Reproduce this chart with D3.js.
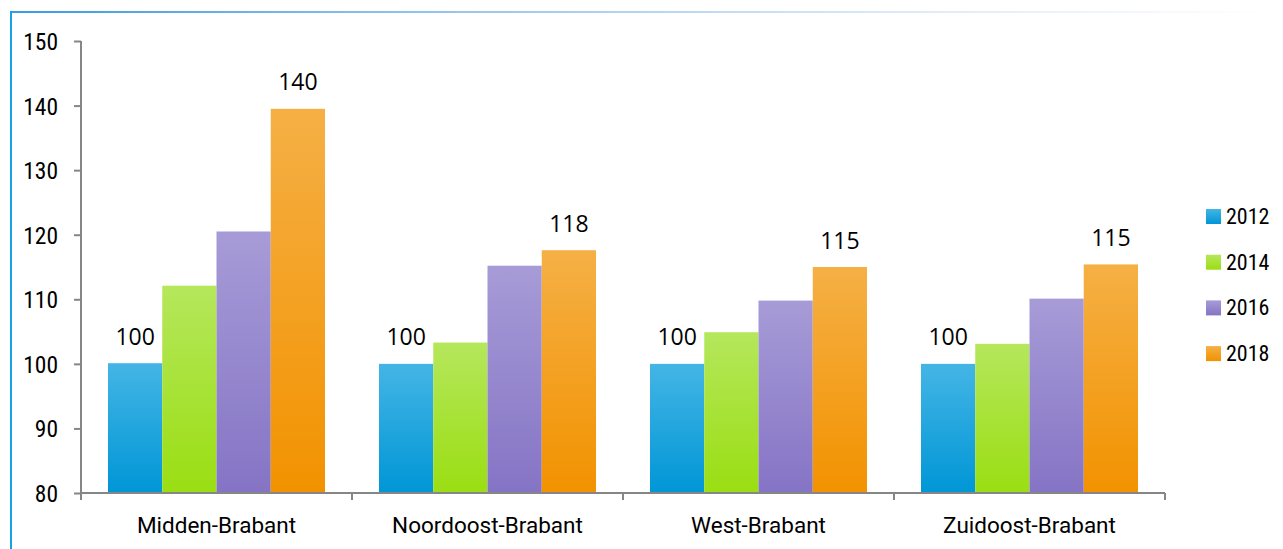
<!DOCTYPE html>
<html><head><meta charset="utf-8">
<script src="https://cdn.jsdelivr.net/npm/d3@7"></script>
<style>
html,body{margin:0;padding:0;background:#fff;}
svg{display:block;}
.ax text{font-family:"Liberation Sans Narrow","Roboto Condensed","DejaVu Sans Condensed",sans-serif;fill:#000;}
</style></head>
<body>
<svg id="c" width="1283" height="549"></svg>
<script>
const categories = ["Midden-Brabant","Noordoost-Brabant","West-Brabant","Zuidoost-Brabant"];
const years = ["2012","2014","2016","2018"];
const v2012 = [100.1, 100.0, 100.0, 100.0];
const v2014 = [112.1, 103.3, 104.9, 103.1];
const v2016 = [120.5, 115.2, 109.8, 110.1];
const v2018 = [139.5, 117.6, 115.0, 115.4];
const labels2012 = ["100","100","100","100"];
const labels2018 = ["140","118","115","115"];
const yTicks = [80,90,100,110,120,130,140,150];
const colors = [["#44b5e5","#0096d6"],["#b5e75c","#9ade12"],["#a79bd7","#8574c5"],["#f5b045","#f29200"]];

const series = [v2012, v2014, v2016, v2018];
const svg = d3.select("#c");
const defs = svg.append("defs");
colors.forEach((c,i)=>{
  const g = defs.append("linearGradient").attr("id","g"+i).attr("x1",0).attr("y1",0).attr("x2",0).attr("y2",1);
  g.append("stop").attr("offset","0%").attr("stop-color",c[0]);
  g.append("stop").attr("offset","100%").attr("stop-color",c[1]);
});
const tg = defs.append("linearGradient").attr("id","tg").attr("x1",0).attr("x2",1).attr("y1",0).attr("y2",0);
tg.append("stop").attr("offset","0%").attr("stop-color","#3a9be0");
tg.append("stop").attr("offset","30%").attr("stop-color","#8cc0ea");
tg.append("stop").attr("offset","70%").attr("stop-color","#dbe9f7");
tg.append("stop").attr("offset","100%").attr("stop-color","#ffffff");

// frame
svg.append("rect").attr("x",10).attr("y",11).attr("width",1255).attr("height",2).attr("fill","url(#tg)");
svg.append("rect").attr("x",10).attr("y",11).attr("width",2).attr("height",538).attr("fill","#19a0e6");

const pL=81, pR=1165, pT=41, pB=493;
const x0 = d3.scaleBand().domain(categories).range([pL,pR]).paddingInner(0).paddingOuter(0);
const x1 = d3.scaleBand().domain(years).range([27, x0.bandwidth()-27]).padding(0);
const y = d3.scaleLinear().domain([80,150]).range([pB,pT]);

const data = categories.map((c,ci)=>({cat:c, vals: years.map((yr,si)=>({yr, si, v: series[si][ci]}))}));

const gr = svg.append("g").selectAll("g").data(data).join("g")
  .attr("transform",d=>`translate(${x0(d.cat)},0)`);
gr.selectAll("rect").data(d=>d.vals).join("rect")
  .attr("x",d=>x1(d.yr)).attr("width",x1.bandwidth())
  .attr("y",d=>y(d.v)).attr("height",d=>y(80)-y(d.v))
  .attr("fill",d=>`url(#g${d.si})`);

// labels
const lf = '"Open Sans","Lato",sans-serif';
gr.append("text").attr("x",x1("2012")+x1.bandwidth()/2).attr("y",(d,i)=>y(v2012[i])-18.5)
  .attr("text-anchor","middle").style("font-family",lf).style("font-size","23px").attr("fill","#000")
  .text((d,i)=>labels2012[i]);
gr.append("text").attr("x",x1("2018")+x1.bandwidth()/2).attr("y",(d,i)=>y(v2018[i])-18.5)
  .attr("text-anchor","middle").style("font-family",lf).style("font-size","23px").attr("fill","#000")
  .text((d,i)=>labels2018[i]);

// y axis
const ya = svg.append("g").attr("class","ax").attr("transform",`translate(${pL},0)`)
  .call(d3.axisLeft(y).tickValues(yTicks).tickSize(7).tickPadding(16).tickSizeOuter(0));
ya.selectAll("line,path").attr("stroke","#868686").attr("stroke-width",2);
ya.selectAll("text").style("font-size","23.5px").attr("dy","0.36em");
ya.select(".domain").attr("d",`M0,${pT}V${pB+7}`);

// x axis
const xa = svg.append("g").attr("class","ax").attr("transform",`translate(0,${pB})`)
  .call(d3.axisBottom(x0).tickSize(0).tickPadding(22).tickSizeOuter(0));
xa.selectAll("line").remove();
xa.select(".domain").attr("stroke","#868686").attr("stroke-width",2).attr("d",`M${pL},0H${pR}`);
xa.selectAll("text").style("font-size","22.5px").style("font-family",'"Roboto","Liberation Sans Narrow",sans-serif').attr("y",40).attr("dy","0");
const bounds = [0,1,2,3,4].map(i=> i<4 ? x0(categories[i]) : pR);
svg.append("g").selectAll("line").data(bounds).join("line")
  .attr("x1",d=>d).attr("x2",d=>d).attr("y1",pB).attr("y2",pB+7)
  .attr("stroke","#868686").attr("stroke-width",2);

// legend
const lg = svg.append("g").attr("class","ax").selectAll("g").data(years).join("g")
  .attr("transform",(d,i)=>`translate(1206,${209+i*45.7})`);
lg.append("rect").attr("width",15).attr("height",15).attr("fill",(d,i)=>`url(#g${i})`);
lg.append("text").attr("x",20).attr("y",15).style("font-size","22px").text(d=>d);
</script>
</body></html>
